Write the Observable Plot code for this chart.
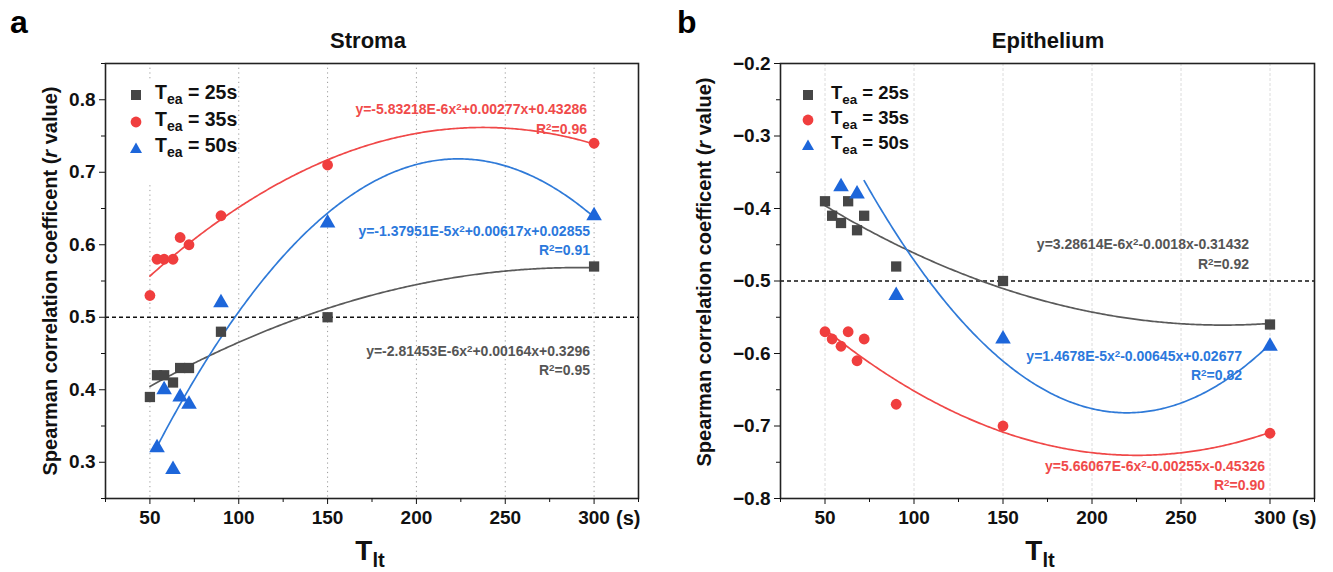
<!DOCTYPE html>
<html><head><meta charset="utf-8">
<script src="https://cdn.jsdelivr.net/npm/d3@7"></script>
<script src="https://cdn.jsdelivr.net/npm/@observablehq/plot@0.6"></script>
<style>
body{margin:0;background:#fff;overflow:hidden;font-family:"Liberation Sans",Arial,sans-serif;}
#root{position:relative;width:1333px;height:572px;}
.panel{position:absolute;top:0;}
.panel svg [aria-label$="tick label"]{font-size:19px !important;font-weight:bold;}
.abs{position:absolute;white-space:nowrap;font-weight:bold;line-height:1;}
.abs sub{font-size:0.72em;vertical-align:-0.35em;line-height:0;}
.abs sup{font-size:0.7em;vertical-align:0.45em;line-height:0;}
.eq{font-size:14px;text-align:right;}
.ytitle{font-size:20px;text-align:center;width:480px;height:24px;line-height:24px;transform:rotate(-90deg);transform-origin:50% 50%;}
</style></head><body><div id="root"></div>
<script>
// ---- data: x values (T_lt, s) ----
const tltStroma = [50, 54, 58, 63, 67, 72, 90, 150, 300];
const tltStromaBlue = [54, 58, 63, 67, 72, 90, 150, 300];
const tltEpi = [50, 54, 59, 63, 68, 72, 90, 150, 300];
const tltEpiBlue = [59, 68, 90, 150, 300];

// ---- Stroma r values ----
const stroma25 = [0.39, 0.42, 0.42, 0.41, 0.43, 0.43, 0.48, 0.50, 0.57];
const stroma35 = [0.53, 0.58, 0.58, 0.58, 0.61, 0.60, 0.64, 0.71, 0.74];
const stroma50 = [0.32, 0.40, 0.29, 0.39, 0.38, 0.52, 0.63, 0.64];

// ---- Epithelium r values ----
const epi25 = [-0.39, -0.41, -0.42, -0.39, -0.43, -0.41, -0.48, -0.50, -0.56];
const epi35 = [-0.57, -0.58, -0.59, -0.57, -0.61, -0.58, -0.67, -0.70, -0.71];
const epi50 = [-0.37, -0.38, -0.52, -0.58, -0.59];

// ---- quadratic fit coefficients printed on the chart [a, b, c] and fitted x-range ----
const fitS25 = [-2.81453e-6, 0.00164, 0.3296];   const rangeS25 = [50, 300];
const fitS35 = [-5.83218e-6, 0.00277, 0.43286];  const rangeS35 = [50, 300];
const fitS50 = [-1.37951e-5, 0.00617, 0.02855];  const rangeS50 = [54, 300];
const fitE25 = [3.28614e-6, -0.0018, -0.31432];  const rangeE25 = [50, 300];
const fitE35 = [5.66067e-6, -0.00255, -0.45326]; const rangeE35 = [50, 300];
const fitE50 = [1.4678e-5, -0.00645, 0.02677];   const rangeE50 = [72, 300];

// ---- labels ----
const seriesNames = ["25s", "35s", "50s"];
const eqStroma = ["y=-2.81453E-6x<sup>2</sup>+0.00164x+0.3296", "y=-5.83218E-6x<sup>2</sup>+0.00277x+0.43286", "y=-1.37951E-5x<sup>2</sup>+0.00617x+0.02855"];
const r2Stroma = ["0.95", "0.96", "0.91"];
const eqEpi = ["y=3.28614E-6x<sup>2</sup>-0.0018x-0.31432", "y=5.66067E-6x<sup>2</sup>-0.00255x-0.45326", "y=1.4678E-5x<sup>2</sup>-0.00645x+0.02677"];
const r2Epi = ["0.92", "0.90", "0.82"];
const xMajor = [50, 100, 150, 200, 250, 300];
const xMinor = [25, 75, 125, 175, 225, 275, 325];
const yMajorStroma = [0.3, 0.4, 0.5, 0.6, 0.7, 0.8];
const yMinorStroma = [0.25, 0.35, 0.45, 0.55, 0.65, 0.75, 0.85];
const yMajorEpi = [-0.8, -0.7, -0.6, -0.5, -0.4, -0.3, -0.2];
const yMinorEpi = [-0.75, -0.65, -0.55, -0.45, -0.35, -0.25];

const colors = ["#464646", "#f03e3e", "#1d66da"];
const lineColors = ["#5a5a5a", "#f04848", "#2f7ad8"];
const eqColors = ["#555555", "#f04a4a", "#2b78dc"];
const symbols = ["square", "circle", "triangle"];
const radii = [5.8, 5.4, 5.8];

const root = document.getElementById("root");
const rows = (xs, ys) => xs.map((x, i) => ({x, y: ys[i]}));
const curve = (c, [x0, x1]) => d3.range(x0, x1 + 0.001, 1).map(x => ({x, y: c[0]*x*x + c[1]*x + c[2]}));
const fmt1 = d3.format(".1f");
const tickFont = {fontSize: 19, fontWeight: "bold", fill: "#111"};

function panel({left, width, mL, mR, yDomain, yMajor, yMinor, refY, pts, fits, gridStroke, gridDash}) {
  const marks = [
    Plot.ruleX(xMajor, {stroke: gridStroke, strokeDasharray: gridDash, strokeWidth: 1}),
    Plot.ruleY([refY], {stroke: "#111", strokeDasharray: "4,3", strokeWidth: 1.3}),
  ];
  fits.forEach((f, i) => marks.push(Plot.line(curve(f[0], f[1]), {x: "x", y: "y", stroke: lineColors[i], strokeWidth: 1.7})));
  pts.forEach((p, i) => marks.push(Plot.dot(p, {x: "x", y: "y", symbol: () => symbols[i], fill: colors[i], r: radii[i], stroke: "none"})));
  marks.push(
    Plot.frame({stroke: "#222", strokeWidth: 1.6}),
    Plot.axisY(yMajor, {tickSize: 6, tickPadding: 4, tickFormat: fmt1, label: null, ...tickFont}),
    Plot.axisY(yMinor, {tickSize: 4, tickFormat: () => "", label: null}),
    Plot.axisX(xMajor, {tickSize: 6, tickPadding: 6, tickFormat: d => String(d), label: null, ...tickFont}),
    Plot.axisX(xMinor, {tickSize: 4, tickFormat: () => "", label: null})
  );
  const svg = Plot.plot({
    width, height: 572, marginLeft: mL, marginRight: mR, marginTop: 63, marginBottom: 74,
    x: {domain: [25, 325]}, y: {domain: yDomain},
    symbol: {type: "identity"},
    style: {fontFamily: "'Liberation Sans', Arial, sans-serif", fontSize: "19px", fontWeight: "bold", color: "#111", background: "transparent"},
    marks
  });
  const d = document.createElement("div");
  d.className = "panel"; d.style.left = left + "px";
  d.appendChild(svg); root.appendChild(d);
}

panel({left: 0, width: 666, mL: 105, mR: 28, yDomain: [0.25, 0.85], yMajor: yMajorStroma, yMinor: yMinorStroma, refY: 0.5,
  pts: [rows(tltStroma, stroma25), rows(tltStroma, stroma35), rows(tltStromaBlue, stroma50)],
  fits: [[fitS25, rangeS25], [fitS35, rangeS35], [fitS50, rangeS50]],
  gridStroke: "#9a9a9a", gridDash: "1.2,3.5"});
panel({left: 666, width: 667, mL: 114, mR: 19, yDomain: [-0.8, -0.2], yMajor: yMajorEpi, yMinor: yMinorEpi, refY: -0.5,
  pts: [rows(tltEpi, epi25), rows(tltEpi, epi35), rows(tltEpiBlue, epi50)],
  fits: [[fitE25, rangeE25], [fitE35, rangeE35], [fitE50, rangeE50]],
  gridStroke: "#dcdcdc", gridDash: "3,2"});

function add(html, style, cls = "abs") {
  const d = document.createElement("div");
  d.className = cls; d.innerHTML = html; Object.assign(d.style, style); root.appendChild(d); return d;
}
function symbolSvg(i) {
  const c = colors[i];
  const shape = i === 0 ? `<rect x="1" y="1" width="10" height="10" fill="${c}"/>`
    : i === 1 ? `<circle cx="6" cy="6" r="5.4" fill="${c}"/>`
    : `<polygon points="6,0.5 12,11 0,11" fill="${c}"/>`;
  return `<svg width="12" height="12" style="display:block">${shape}</svg>`;
}
// legend backgrounds + entries
add("", {left: "118px", top: "80px", width: "118px", height: "104px", background: "#fff"});
const legendRows = [[136, 155, [95, 122, 148], 19.5], [808, 831, [95, 120, 145], 18.5]];
legendRows.forEach(([mx, tx, ys, fs]) => {
  ys.forEach((y, i) => {
    add(symbolSvg(i), {left: (mx - 6) + "px", top: (y - 6) + "px"});
    add(`T<sub>ea</sub> = ${seriesNames[i]}`, {left: tx + "px", top: (y - fs * 0.62) + "px", fontSize: fs + "px", color: "#111"});
  });
});
// equations: [index, rightEdge, centerY eq, centerY R2]
const eqPosS = [[0, 590, 352, 371], [1, 587, 110, 130], [2, 590, 232, 251]];
const eqPosE = [[0, 1249, 245, 265], [1, 1265, 467, 486], [2, 1242, 357, 376]];
eqPosS.forEach(([i, r, y1, y2]) => {
  add(eqStroma[i], {right: (1333 - r) + "px", top: (y1 - 8) + "px", color: eqColors[i]}, "abs eq");
  add(`R<sup>2</sup>=${r2Stroma[i]}`, {right: (1333 - r) + "px", top: (y2 - 8) + "px", color: eqColors[i]}, "abs eq");
});
eqPosE.forEach(([i, r, y1, y2]) => {
  add(eqEpi[i], {right: (1333 - r) + "px", top: (y1 - 8) + "px", color: eqColors[i]}, "abs eq");
  add(`R<sup>2</sup>=${r2Epi[i]}`, {right: (1333 - r) + "px", top: (y2 - 8) + "px", color: eqColors[i]}, "abs eq");
});
// titles and letters
add("a", {left: "10px", top: "6px", fontSize: "32px", color: "#000"});
add("b", {left: "677px", top: "6px", fontSize: "32px", color: "#000"});
add("Stroma", {left: "268px", top: "30px", width: "200px", textAlign: "center", fontSize: "22px", color: "#111"});
add("Epithelium", {left: "948px", top: "30px", width: "200px", textAlign: "center", fontSize: "22px", color: "#111"});
// axis titles
const yTitle = "Spearman correlation coefficent (<i>r</i> value)";
add(yTitle, {left: (50 - 240) + "px", top: (281 - 12) + "px", color: "#111"}, "abs ytitle");
add(yTitle, {left: (704 - 240) + "px", top: (272 - 12) + "px", color: "#111"}, "abs ytitle");
add("T<sub>lt</sub>", {left: "320px", top: "537px", width: "100px", textAlign: "center", fontSize: "28px", color: "#111"});
add("T<sub>lt</sub>", {left: "990px", top: "537px", width: "100px", textAlign: "center", fontSize: "28px", color: "#111"});
add("(s)", {left: "616px", top: "508px", fontSize: "20px", color: "#111"});
add("(s)", {left: "1292px", top: "508px", fontSize: "20px", color: "#111"});
</script></body></html>
